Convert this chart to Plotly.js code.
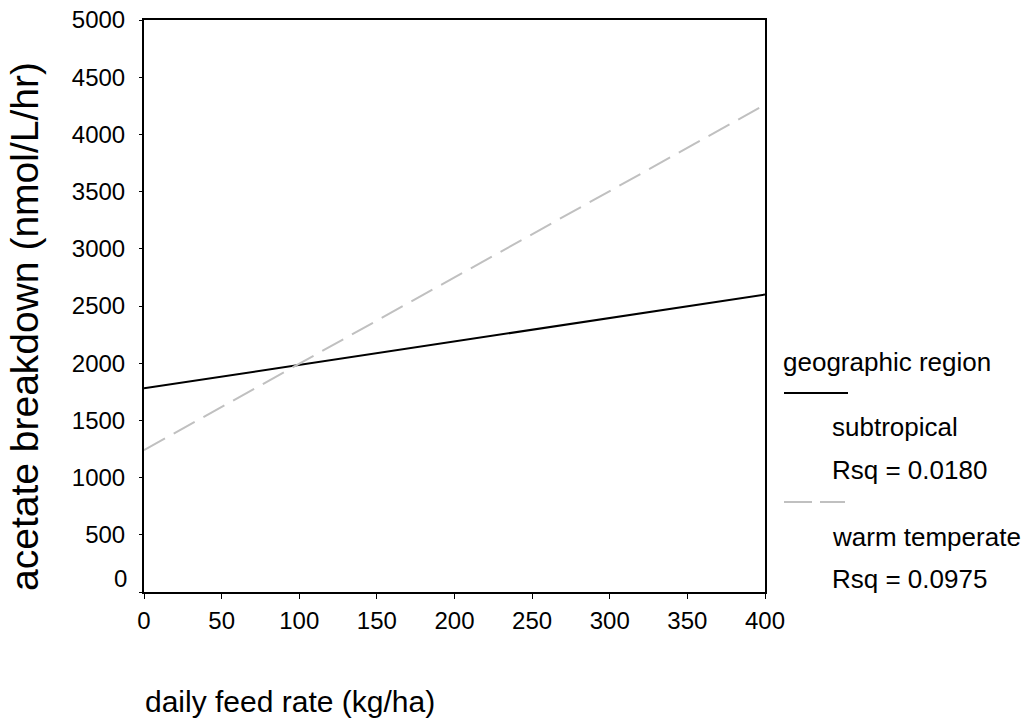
<!DOCTYPE html>
<html>
<head>
<meta charset="utf-8">
<script src="https://cdn.plot.ly/plotly-3.0.1.min.js"></script>
<style>body{margin:0;padding:0;background:#fff}#chart{width:1029px;height:722px}</style>
</head>
<body>
<div id="chart"></div>
<script>
const feedRate = [0, 400];
const subtropical = [1780, 2600];
const warmTemperate = [1240, 4260];
const seriesNames = ["subtropical", "warm temperate"];
const rsqLabels = ["Rsq = 0.0180", "Rsq = 0.0975"];
const xTicks = [0, 50, 100, 150, 200, 250, 300, 350, 400];
const yTicks = [0, 500, 1000, 1500, 2000, 2500, 3000, 3500, 4000, 4500, 5000];
const xTitle = "daily feed rate (kg/ha)";
const yTitle = "acetate breakdown (nmol/L/hr)";
const legendTitle = "geographic region";

const font = "Liberation Sans, Arial, sans-serif";
const tickSize = 24, legSize = 26;
const traces = [
  {x: feedRate, y: subtropical, mode: "lines", name: seriesNames[0],
   line: {color: "#000000", width: 2}, showlegend: false},
  {x: feedRate, y: warmTemperate, mode: "lines", name: seriesNames[1],
   line: {color: "#c0c0c0", width: 2, dash: "24px,10px"}, showlegend: false}
];

const py = v => (592 - v) / 572;
const px = v => (v - 144) / 621;

const layout = {
  width: 1029, height: 722,
  margin: {l: 144, r: 264, t: 20, b: 130},
  paper_bgcolor: "#fff", plot_bgcolor: "#fff",
  font: {family: font, size: tickSize, color: "#000"},
  xaxis: {range: [0, 400], tickvals: xTicks, ticktext: xTicks.map(String),
    showgrid: false, zeroline: false, showline: true, mirror: true,
    linecolor: "#000", linewidth: 2, ticks: "outside", ticklen: 5, tickwidth: 1,
    tickcolor: "#000", tickfont: {size: tickSize, family: font}, ticklabelstandoff: 1},
  yaxis: {range: [0, 5000], tickvals: yTicks,
    ticktext: yTicks.map(v => v === 0 ? "" : String(v)),
    showgrid: false, zeroline: false, showline: true, mirror: true,
    linecolor: "#000", linewidth: 2, ticks: "outside", ticklen: 3, tickwidth: 1,
    tickcolor: "#000", tickfont: {size: tickSize, family: font}, ticklabelstandoff: 9},
  annotations: [
    {xref: "paper", yref: "paper", x: px(24), y: py(327), xanchor: "center", yanchor: "middle",
     textangle: -90, text: yTitle, showarrow: false, font: {size: 39, family: font}},
    {xref: "paper", yref: "paper", x: px(129), y: py(578), xanchor: "right", yanchor: "middle",
     text: String(yTicks[0]), showarrow: false, font: {size: tickSize, family: font}},
    {xref: "paper", yref: "paper", x: px(143), y: py(701), xanchor: "left", yanchor: "middle",
     text: xTitle, showarrow: false, font: {size: 30, family: font}},
    {xref: "paper", yref: "paper", x: px(781), y: py(362), xanchor: "left", yanchor: "middle",
     text: legendTitle, showarrow: false, font: {size: legSize, family: font}},
    {xref: "paper", yref: "paper", x: px(830), y: py(427), xanchor: "left", yanchor: "middle",
     text: seriesNames[0], showarrow: false, font: {size: legSize, family: font}},
    {xref: "paper", yref: "paper", x: px(830), y: py(470), xanchor: "left", yanchor: "middle",
     text: rsqLabels[0], showarrow: false, font: {size: legSize, family: font}},
    {xref: "paper", yref: "paper", x: px(830), y: py(537), xanchor: "left", yanchor: "middle",
     text: seriesNames[1], showarrow: false, font: {size: legSize, family: font}},
    {xref: "paper", yref: "paper", x: px(830), y: py(579), xanchor: "left", yanchor: "middle",
     text: rsqLabels[1], showarrow: false, font: {size: legSize, family: font}}
  ],
  shapes: [
    {type: "line", xref: "paper", yref: "paper", x0: px(784), x1: px(848),
     y0: py(393), y1: py(393), line: {color: "#000", width: 2}},
    {type: "line", xref: "paper", yref: "paper", x0: px(784), x1: px(845),
     y0: py(502), y1: py(502), line: {color: "#c0c0c0", width: 2, dash: "28px,8px"}}
  ]
};

Plotly.newPlot("chart", traces, layout, {displayModeBar: false, staticPlot: true});
</script>
</body>
</html>
